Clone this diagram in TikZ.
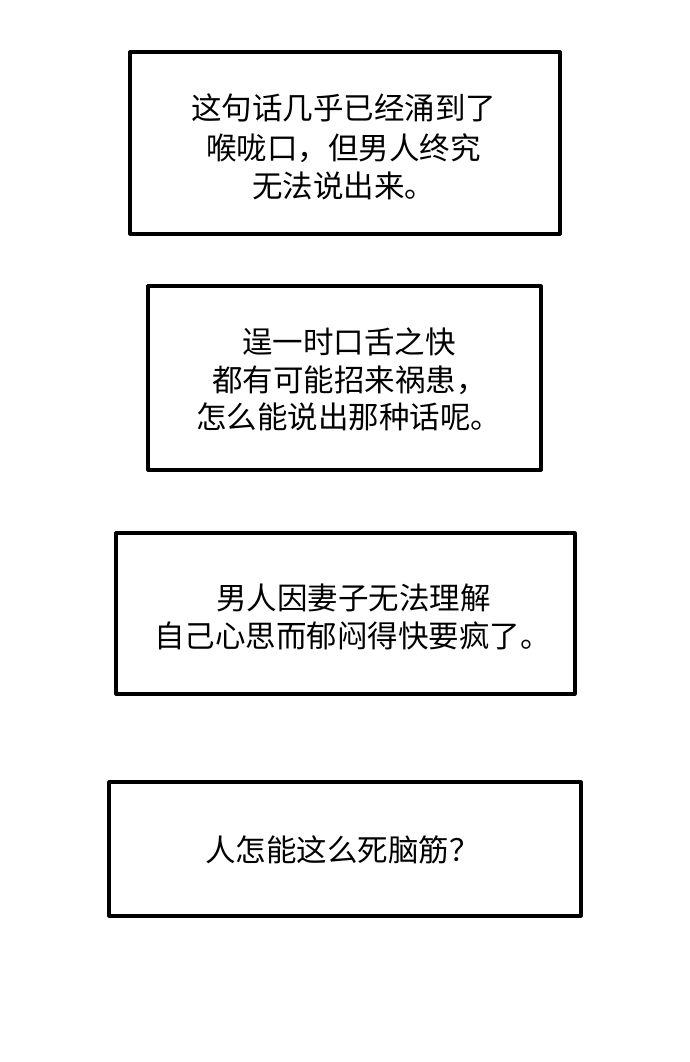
\documentclass[tikz,border=0pt]{standalone}
\usepackage{fontspec}
\newfontfamily\cjk{Noto Sans CJK SC}
\begin{document}
\begin{tikzpicture}[x=1pt,y=-1pt,
  box/.style={draw=black,line width=3.2pt,line join=round},
  t/.style={anchor=west,inner sep=0pt,font=\cjk\fontsize{30.5}{32}\selectfont}]
\useasboundingbox[fill=white] (0,0) rectangle (690,1062);
\draw[box] (130,52) rectangle (560,234);
\node[t] (a1) at (191,108) {这句话几乎已经涌到了};
\node[t] (a2) at (206,148) {喉咙口，但男人终究};
\node[t] (a3) at (252,186) {无法说出来。};
\draw[box] (148,286) rectangle (541,470);
\node[t] (b1) at (242,342) {逞一时口舌之快};
\node[t] (b2) at (212,380) {都有可能招来祸患，};
\node[t] (b3) at (196,417) {怎么能说出那种话呢。};
\draw[box] (116,533) rectangle (575,694);
\node[t] (c1) at (216,598) {男人因妻子无法理解};
\node[t] (c2) at (154,636) {自己心思而郁闷得快要疯了。};
\draw[box] (109,782) rectangle (581,916);
\node[t] (d1) at (205,850) {人怎能这么死脑筋？};
\end{tikzpicture}
\end{document}
